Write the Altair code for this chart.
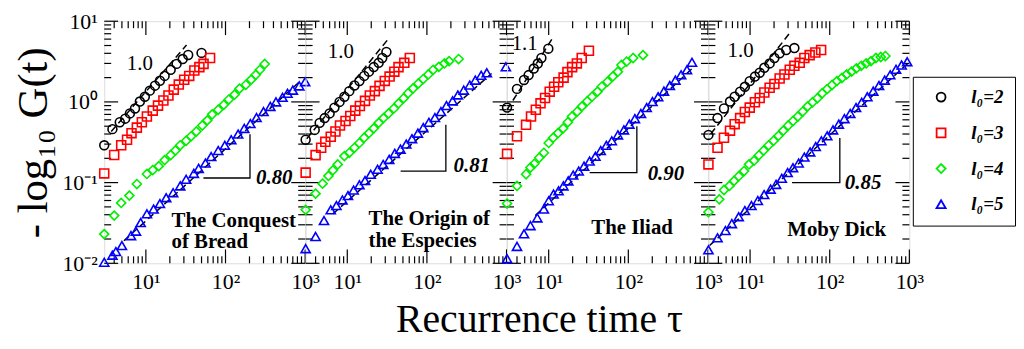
import altair as alt
import pandas as pd

# ---------------- data ----------------
SERIES = ["l₀=2", "l₀=3", "l₀=4", "l₀=5"]
COLORS = ["#000000", "#ff0000", "#00ee00", "#0000ff"]
SHAPES = ["circle", "square", "diamond", "triangle-up"]
BOOKS = ["The Conquest\nof Bread", "The Origin of\nthe Especies", "The Iliad", "Moby Dick"]

# Panel 1 - The Conquest of Bread
P1_L2_T = [3, 3.8, 4.7, 5.5, 6.3, 7.3, 8.4, 9.7, 11.2, 13, 15, 17.2, 20.5, 24.3, 29, 34, 50]
P1_L2_G = [0.29, 0.46, 0.56, 0.62, 0.72, 0.83, 1.01, 1.16, 1.38, 1.59, 1.83, 2.1, 2.5, 2.96, 3.4, 3.82, 4.05]
P1_L3_T = [3, 4, 4.9, 5.8, 6.6, 7.7, 8.9, 10.3, 12.2, 14.2, 16.6, 19.2, 22.4, 25.9, 30.3, 35, 40.6, 47, 53, 64]
P1_L3_G = [0.13, 0.22, 0.29, 0.34, 0.41, 0.48, 0.56, 0.66, 0.78, 0.9, 1.04, 1.2, 1.42, 1.64, 1.88, 2.1, 2.45, 2.7, 2.96, 3.5]
P1_L4_T = [3, 4, 4.9, 6.2, 7.7, 10.3, 12.2, 14.5, 17.2, 20.5, 23.5, 27, 32, 37, 43, 51, 59, 68, 81, 95, 110, 130, 150, 180, 210, 240, 270, 310]
P1_L4_G = [0.023, 0.039, 0.056, 0.069, 0.096, 0.128, 0.143, 0.16, 0.19, 0.22, 0.25, 0.29, 0.33, 0.375, 0.43, 0.51, 0.59, 0.70, 0.80, 0.92, 1.07, 1.23, 1.46, 1.63, 1.89, 2.17, 2.5, 2.95]
P1_L5_T = [3, 3.8, 4.2, 5.0, 6.5, 7.5, 8.6, 10.3, 12.5, 15, 18, 22, 27, 32, 40, 46, 56, 66, 81, 98, 118, 144, 172, 205, 245, 300, 365, 430, 520, 600, 700, 843, 1000]
P1_L5_G = [0.0103, 0.0126, 0.014, 0.0166, 0.022, 0.025, 0.032, 0.041, 0.047, 0.055, 0.065, 0.075, 0.091, 0.11, 0.13, 0.15, 0.175, 0.21, 0.25, 0.29, 0.34, 0.40, 0.47, 0.54, 0.64, 0.76, 0.88, 1.0, 1.14, 1.28, 1.40, 1.58, 1.78]

# Panel 2 - The Origin of the Especies
P2_L2_T = [3, 3.9, 4.5, 5.2, 6.0, 6.9, 8.0, 9.2, 10.6, 12.3, 14.2, 16.3, 18.7, 21.5, 24.8, 27.5, 31]
P2_L2_G = [0.34, 0.45, 0.55, 0.63, 0.72, 0.85, 1.0, 1.16, 1.36, 1.60, 1.81, 2.1, 2.37, 2.7, 3.05, 3.5, 4.16]
P2_L3_T = [3, 4.0, 4.7, 5.3, 6.2, 7.1, 8.1, 9.5, 10.9, 12.6, 14.4, 16.7, 19.2, 22.2, 25.4, 29.6, 34, 39, 44, 52, 61]
P2_L3_G = [0.133, 0.219, 0.27, 0.32, 0.37, 0.43, 0.51, 0.58, 0.67, 0.78, 0.89, 1.03, 1.2, 1.36, 1.58, 1.82, 2.06, 2.37, 2.7, 3.05, 3.5]
P2_L4_T = [3, 4.0, 4.9, 5.8, 6.6, 7.6, 9.2, 10.6, 12.3, 14.2, 16.3, 18.7, 21.5, 24.8, 28.5, 33, 38.5, 44, 51, 58, 67, 78, 90, 104, 120, 141, 166, 190, 250]
P2_L4_G = [0.046, 0.073, 0.097, 0.121, 0.142, 0.168, 0.213, 0.234, 0.27, 0.31, 0.36, 0.41, 0.47, 0.55, 0.63, 0.72, 0.83, 0.96, 1.11, 1.28, 1.47, 1.69, 1.92, 2.19, 2.5, 2.72, 3.0, 3.2, 3.4]
P2_L5_T = [3, 4.0, 5.1, 6.2, 7.3, 8.7, 10.2, 12, 14.2, 16.7, 19.7, 24, 28.3, 33.6, 39.5, 46.5, 55, 65, 77, 90, 106, 126, 150, 176, 210, 245, 290, 345, 405, 480, 565, 980]
P2_L5_G = [0.0152, 0.0215, 0.0338, 0.046, 0.052, 0.061, 0.069, 0.081, 0.094, 0.106, 0.127, 0.146, 0.168, 0.194, 0.23, 0.26, 0.30, 0.35, 0.41, 0.48, 0.56, 0.64, 0.76, 0.90, 1.03, 1.22, 1.40, 1.62, 1.86, 2.14, 2.3, 2.72]

# Panel 3 - The Iliad
P3_L2_T = [3, 4.0, 4.9, 5.6, 6.5, 7.3, 8.1, 9.9]
P3_L2_G = [0.85, 1.45, 1.87, 2.15, 2.59, 2.99, 3.5, 4.57]
P3_L3_T = [3, 4.0, 5.2, 6.0, 6.9, 7.9, 9.0, 10.3, 11.7, 13.2, 15.4, 17.2, 19.7, 22.6, 26, 32]
P3_L3_G = [0.227, 0.375, 0.52, 0.66, 0.80, 0.96, 1.12, 1.34, 1.54, 1.75, 2.0, 2.34, 2.7, 3.0, 3.5, 4.3]
P3_L4_T = [3, 4, 5.2, 5.9, 6.6, 7.6, 8.7, 10.0, 11.4, 13.1, 15.2, 17.4, 19.6, 22.8, 26.2, 30.5, 35, 41, 46.5, 54.7, 64, 74, 82, 95, 115, 153]
P3_L4_G = [0.055, 0.091, 0.127, 0.154, 0.171, 0.203, 0.234, 0.31, 0.36, 0.41, 0.47, 0.56, 0.66, 0.76, 0.88, 1.02, 1.16, 1.34, 1.55, 1.78, 2.07, 2.37, 2.87, 3.15, 3.5, 3.8]
P3_L5_T = [3, 4, 4.9, 5.9, 7.2, 8.7, 10.0, 11.5, 13.3, 15.3, 17.6, 20.3, 23.8, 27.8, 32.6, 38.6, 45, 53, 62, 74, 88, 103, 121, 144, 170, 201, 237, 280, 332, 390, 460, 545, 630]
P3_L5_G = [0.0114, 0.0162, 0.0232, 0.0293, 0.0365, 0.047, 0.0596, 0.072, 0.079, 0.091, 0.105, 0.124, 0.139, 0.16, 0.185, 0.212, 0.25, 0.29, 0.33, 0.39, 0.45, 0.53, 0.62, 0.72, 0.85, 1.01, 1.16, 1.36, 1.60, 1.86, 2.17, 2.5, 3.1]

# Panel 4 - Moby Dick
P4_L2_T = [3, 3.9, 4.7, 5.6, 6.4, 7.5, 8.6, 9.9, 11.5, 13.2, 15.1, 17.6, 20.2, 23.5, 28.4, 36]
P4_L2_G = [0.39, 0.63, 0.83, 1.01, 1.16, 1.34, 1.54, 1.81, 2.06, 2.3, 2.65, 3.0, 3.5, 4.0, 4.4, 4.65]
P4_L3_T = [3, 3.9, 4.7, 5.6, 6.4, 7.5, 8.6, 9.9, 11.5, 13.2, 15.1, 17.6, 20.2, 23.5, 27, 31.5, 36, 42, 48, 56, 66, 78]
P4_L3_G = [0.168, 0.27, 0.36, 0.44, 0.53, 0.63, 0.75, 0.85, 0.99, 1.12, 1.31, 1.5, 1.67, 1.95, 2.19, 2.5, 2.8, 3.05, 3.5, 3.8, 4.1, 4.4]
P4_L4_T = [3, 4.1, 4.7, 5.5, 6.3, 7.2, 8.4, 9.7, 11.2, 12.9, 14.8, 17.1, 19.7, 22.7, 26.1, 30.1, 34.6, 39.8, 45.9, 52.8, 60.8, 70, 80.6, 92.8, 107, 123, 142, 163, 188, 216, 249, 287, 330, 380, 437, 500]
P4_L4_G = [0.043, 0.062, 0.081, 0.091, 0.105, 0.12, 0.139, 0.168, 0.187, 0.218, 0.25, 0.29, 0.33, 0.38, 0.44, 0.51, 0.58, 0.66, 0.76, 0.88, 0.99, 1.11, 1.28, 1.44, 1.62, 1.81, 1.98, 2.19, 2.37, 2.6, 2.8, 3.0, 3.2, 3.5, 3.6, 3.7]
P4_L5_T = [3, 3.9, 4.9, 5.9, 7.2, 8.6, 10.4, 12.5, 15.0, 18.1, 21.2, 25, 29.6, 34.6, 40.7, 48, 56.8, 66.7, 78.5, 93, 110, 130, 153, 181, 214, 252, 297, 352, 416, 490, 575, 680, 800, 940]
P4_L5_G = [0.0147, 0.0207, 0.0255, 0.031, 0.0378, 0.045, 0.052, 0.060, 0.071, 0.083, 0.095, 0.113, 0.133, 0.153, 0.175, 0.207, 0.24, 0.28, 0.33, 0.38, 0.45, 0.53, 0.62, 0.72, 0.85, 0.99, 1.16, 1.36, 1.60, 1.86, 2.17, 2.54, 2.87, 3.15]

# dashed power-law guides (end points)
FIT_TOP_T = [[3.67, 32.4], [3.1, 34], [3.0, 11.4], [3.2, 32]]
FIT_TOP_G = [[0.43, 5.07], [0.35, 6.3], [0.8, 6.35], [0.4, 7.3]]
FIT_BOT_T = [[5.3, 850], [6.6, 648], [6.8, 634], [3.1, 950]]
FIT_BOT_G = [[0.019, 1.78], [0.041, 2.25], [0.039, 2.6], [0.0166, 2.99]]

# slope indicator corners
SLOPE_T = [[52.8, 203, 203], [46.8, 173, 173], [32.7, 128, 128], [33.6, 134, 134]]
SLOPE_G = [[0.114, 0.114, 0.397], [0.139, 0.139, 0.52], [0.133, 0.133, 0.50], [0.1, 0.1, 0.357]]
SLOPE_TXT = ["0.80", "0.81", "0.90", "0.85"]
SLOPE_TXT_T = [242, 216, 175, 155]
SLOPE_TXT_G = [0.114, 0.16, 0.128, 0.1]

EXP_TXT = ["1.0", "1.0", "1.1", "1.0"]
EXP_T = [8.4, 8.3, 5.0, 7.6]
EXP_G = [2.96, 4.16, 5.2, 4.28]

BOOK_T = [21, 18.5, 34.3, 29.3]
BOOK_G = [0.0338, 0.0355, 0.0277, 0.0255]

MAJOR_X = [10, 100, 1000]
MINOR_X = [4, 5, 6, 7, 8, 9, 20, 30, 40, 50, 60, 70, 80, 90, 200, 300, 400, 500, 600, 700, 800, 900]
MAJOR_Y = [0.01, 0.1, 1, 10]
MINOR_Y = [0.02, 0.03, 0.04, 0.05, 0.06, 0.07, 0.08, 0.09,
           0.2, 0.3, 0.4, 0.5, 0.6, 0.7, 0.8, 0.9,
           2, 3, 4, 5, 6, 7, 8, 9]

PANELS = [
    [(P1_L2_T, P1_L2_G), (P1_L3_T, P1_L3_G), (P1_L4_T, P1_L4_G), (P1_L5_T, P1_L5_G)],
    [(P2_L2_T, P2_L2_G), (P2_L3_T, P2_L3_G), (P2_L4_T, P2_L4_G), (P2_L5_T, P2_L5_G)],
    [(P3_L2_T, P3_L2_G), (P3_L3_T, P3_L3_G), (P3_L4_T, P3_L4_G), (P3_L5_T, P3_L5_G)],
    [(P4_L2_T, P4_L2_G), (P4_L3_T, P4_L3_G), (P4_L4_T, P4_L4_G), (P4_L5_T, P4_L5_G)],
]

# ---------------- chart ----------------
W, H = 202.5, 244
SERIF = "Liberation Serif"
MAJ, MIN = 14, 7
MARK_SIZES = [80, 85, 95, 115]


def xenc():
    ax = alt.Axis(values=MAJOR_X, ticks=False, domain=False, grid=False, title=None,
                  labelExpr="datum.value < 50 ? '10¹' : datum.value < 500 ? '10²' : '10³'",
                  labelFont=SERIF, labelFontSize=22, labelColor="black", labelPadding=8,
                  labelFlush=False, labelOverlap=False)
    return alt.X("tau:Q", scale=alt.Scale(type="log", domain=[3, 1000], nice=False), axis=ax)


def yenc(first):
    if first:
        ax = alt.Axis(values=MAJOR_Y, ticks=False, domain=False, grid=False,
                      labelExpr="datum.value < 0.05 ? '10⁻²' : datum.value < 0.5 ? '10⁻¹' : datum.value < 5 ? '10⁰' : '10¹'",
                      labelFont=SERIF, labelFontSize=22, labelColor="black", labelPadding=7,
                      labelFlush=False, labelOverlap=False,
                      title="- log₁₀ G(t)", titleFont=SERIF, titleFontSize=43,
                      titleFontWeight="normal", titleColor="black", titlePadding=7)
    else:
        ax = None
    return alt.Y("G:Q", scale=alt.Scale(type="log", domain=[0.01, 10], nice=False), axis=ax)


LEG = dict(title=None, orient="none", legendX=815, legendY=56,
           strokeColor="black", padding=11, fillColor="white",
           symbolSize=55, symbolStrokeWidth=1.8, symbolOffset=8,
           labelFont=SERIF, labelFontSize=19, labelFontStyle="italic",
           labelFontWeight="bold", labelColor="black",
           labelOffset=21, rowPadding=16)


def panel(i):
    rows = []
    for s, (ts, gs) in enumerate(PANELS[i]):
        for t, g in zip(ts, gs):
            rows.append({"tau": t, "G": g, "series": SERIES[s]})
    pts = pd.DataFrame(rows)

    color = alt.Color("series:N", scale=alt.Scale(domain=SERIES, range=COLORS), legend=alt.Legend(**LEG))
    shape = alt.Shape("series:N", scale=alt.Scale(domain=SERIES, range=SHAPES), legend=alt.Legend(**LEG))
    size = alt.Size("series:N", scale=alt.Scale(domain=SERIES, range=MARK_SIZES), legend=None)

    points = alt.Chart(pts).mark_point(filled=False, strokeWidth=1.6, opacity=1).encode(
        x=xenc(), y=yenc(i == 0), color=color, shape=shape, size=size)

    fits = pd.DataFrame({
        "tau": FIT_TOP_T[i] + FIT_BOT_T[i],
        "G": FIT_TOP_G[i] + FIT_BOT_G[i],
        "grp": ["top", "top", "bot", "bot"],
    })
    fit_lines = alt.Chart(fits).mark_line(color="black", strokeDash=[7, 4], strokeWidth=1.5).encode(
        x=xenc(), y=yenc(i == 0), detail="grp:N")

    sl = pd.DataFrame({"tau": SLOPE_T[i], "G": SLOPE_G[i], "k": [0, 1, 2]})
    slope = alt.Chart(sl).mark_line(color="black", strokeWidth=1.3).encode(
        x=xenc(), y=yenc(i == 0), order="k:Q")

    slope_txt = alt.Chart(pd.DataFrame({"tau": [SLOPE_TXT_T[i]], "G": [SLOPE_TXT_G[i]], "txt": [SLOPE_TXT[i]]})).mark_text(
        font=SERIF, fontSize=21, fontStyle="italic", fontWeight="bold", align="left", baseline="middle", color="black"
    ).encode(x=xenc(), y=yenc(i == 0), text="txt:N")

    exp_txt = alt.Chart(pd.DataFrame({"tau": [EXP_T[i]], "G": [EXP_G[i]], "txt": [EXP_TXT[i]]})).mark_text(
        font=SERIF, fontSize=21, align="center", baseline="middle", color="black"
    ).encode(x=xenc(), y=yenc(i == 0), text="txt:N")

    book_txt = alt.Chart(pd.DataFrame({"tau": [BOOK_T[i]], "G": [BOOK_G[i]], "txt": [BOOKS[i]]})).mark_text(
        font=SERIF, fontSize=21, fontWeight="bold", align="left", baseline="middle", color="black",
        lineBreak="\n", lineHeight=22
    ).encode(x=xenc(), y=yenc(i == 0), text="txt:N")

    # inward ticks on all four sides
    ymaj = pd.DataFrame({"G": MAJOR_Y})
    ymin = pd.DataFrame({"G": MINOR_Y})
    xmaj = pd.DataFrame({"tau": MAJOR_X})
    xmin = pd.DataFrame({"tau": MINOR_X})
    tk = dict(color="black", strokeWidth=1.2)
    ticks = [
        alt.Chart(ymaj).mark_rule(**tk).encode(y=yenc(i == 0), x=alt.value(0), x2=alt.value(MAJ)),
        alt.Chart(ymaj).mark_rule(**tk).encode(y=yenc(i == 0), x=alt.value(W), x2=alt.value(W - MAJ)),
        alt.Chart(ymin).mark_rule(**tk).encode(y=yenc(i == 0), x=alt.value(0), x2=alt.value(MIN)),
        alt.Chart(ymin).mark_rule(**tk).encode(y=yenc(i == 0), x=alt.value(W), x2=alt.value(W - MIN)),
        alt.Chart(xmaj).mark_rule(**tk).encode(x=xenc(), y=alt.value(H), y2=alt.value(H - MAJ)),
        alt.Chart(xmaj).mark_rule(**tk).encode(x=xenc(), y=alt.value(0), y2=alt.value(MAJ)),
        alt.Chart(xmin).mark_rule(**tk).encode(x=xenc(), y=alt.value(H), y2=alt.value(H - MIN)),
        alt.Chart(xmin).mark_rule(**tk).encode(x=xenc(), y=alt.value(0), y2=alt.value(MIN)),
    ]

    return alt.layer(*ticks, fit_lines, slope, points, slope_txt, exp_txt, book_txt).properties(width=W, height=H)


chart = alt.hconcat(*[panel(i) for i in range(4)], spacing=0, bounds="flush").properties(
    title=alt.TitleParams("Recurrence time τ", orient="bottom", anchor="middle", font=SERIF,
                          fontSize=40, fontWeight="normal", color="black", offset=8, dx=26),
    padding={"left": 3, "top": 0, "right": 0, "bottom": 0},
).configure_view(stroke="black", strokeWidth=1.6).configure(background="white")

chart.save("out.html", embed_options={"renderer": "svg", "actions": False})
